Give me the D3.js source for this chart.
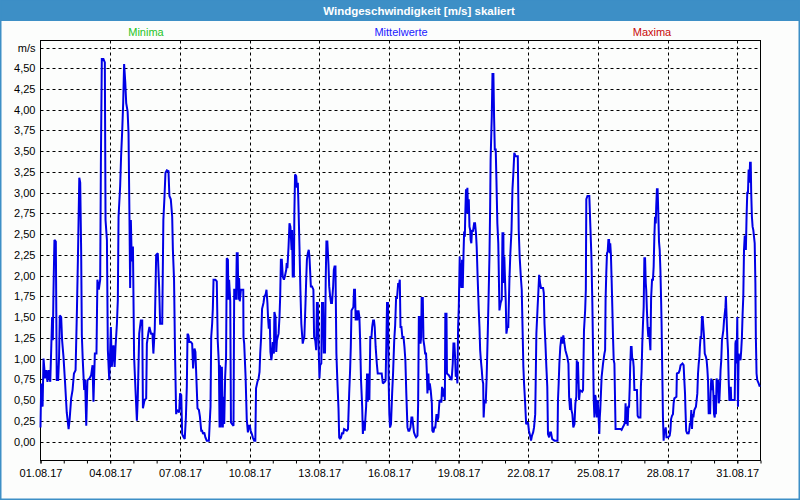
<!DOCTYPE html>
<html>
<head>
<meta charset="utf-8">
<script src="https://cdn.jsdelivr.net/npm/d3@7"></script>
<style>
  html, body { margin: 0; padding: 0; background: #fcfdfc; }
  svg { display: block; }
  text { font-family: "Liberation Sans", Arial, sans-serif; }
</style>
</head>
<body>
<svg id="chart" width="800" height="500"></svg>
<script>
// ---- data ----
const titleText = "Windgeschwindigkeit [m/s] skaliert";
const legendLabels = ["Minima", "Mittelwerte", "Maxima"];
const yUnitLabel = "m/s";
const yTickValues = [0, 0.25, 0.5, 0.75, 1, 1.25, 1.5, 1.75, 2, 2.25, 2.5, 2.75, 3, 3.25, 3.5, 3.75, 4, 4.25, 4.5];
const xTickLabels = ["01.08.17", "04.08.17", "07.08.17", "10.08.17", "13.08.17", "16.08.17", "19.08.17", "22.08.17", "25.08.17", "28.08.17", "31.08.17"];
// time in days since 01.08.2017 00:00
const days = [
0.00,0.03,0.09,0.13,0.20,0.25,0.30,0.35,0.42,0.46,0.50,0.53,0.56,0.60,0.66,0.70,0.76,0.80,0.83,0.89,0.93,0.99,
1.06,1.13,1.21,1.25,1.32,1.38,1.44,1.51,1.57,1.61,1.67,1.71,1.75,1.78,1.82,1.88,1.92,1.97,
2.02,2.11,2.18,2.24,2.28,2.34,2.41,2.45,2.51,2.57,2.60,2.64,2.71,2.77,2.80,2.86,2.90,2.96,
3.03,3.07,3.14,3.19,3.23,3.29,3.33,3.36,3.43,3.47,3.52,3.56,3.60,3.65,3.69,3.75,3.79,3.83,3.86,3.89,3.93,3.98,
4.03,4.09,4.15,4.19,4.25,4.32,4.38,4.41,4.48,4.55,4.58,4.65,4.69,4.76,4.82,4.86,4.92,4.98,
5.05,5.11,5.15,5.24,5.29,5.34,5.38,5.44,5.51,5.55,5.61,5.67,5.70,5.75,5.79,5.84,5.88,5.97,
6.01,6.06,6.10,6.16,6.21,6.26,6.30,6.33,6.37,6.41,6.47,6.53,6.57,6.63,6.67,6.72,6.76,6.82,6.86,6.92,6.96,
7.00,7.05,7.10,7.16,7.25,7.28,7.32,7.35,7.39,7.42,7.45,7.53,7.59,7.63,7.68,7.71,7.73,7.76,7.81,7.85,7.88,7.91,7.95,7.99,
8.02,8.07,8.09,8.12,8.17,8.20,8.25,8.31,8.34,8.39,8.42,8.45,8.49,8.52,8.55,8.58,8.63,8.73,8.74,8.77,8.83,8.88,8.93,8.97,
9.01,9.05,9.10,9.14,9.20,9.25,9.28,9.34,9.39,9.43,9.46,9.50,9.54,9.60,9.64,9.69,9.73,9.77,9.80,9.83,9.87,9.90,9.94,9.97,
10.00,10.05,10.07,10.12,10.15,10.18,10.25,10.29,10.32,10.35,10.39,10.43,10.48,10.52,10.58,10.60,10.63,10.68,10.72,10.76,10.81,10.83,10.86,10.91,10.93,10.96,
11.01,11.04,11.08,11.10,11.15,11.19,11.23,11.26,11.29,11.32,11.36,11.41,11.44,11.47,11.51,11.55,11.58,11.64,11.69,11.75,11.78,11.83,11.87,11.90,11.94,11.97,
12.01,12.04,12.09,12.12,12.17,12.20,12.22,12.25,12.28,12.31,12.35,12.40,12.43,12.47,12.51,12.55,12.60,12.63,12.66,12.70,12.74,12.78,12.83,12.86,12.90,12.94,12.99,
13.03,13.07,13.19,13.24,13.29,13.33,13.36,13.39,13.47,13.50,13.54,13.57,13.60,13.64,13.69,13.73,13.76,13.80,13.85,13.88,13.92,13.96,13.99,
14.02,14.06,14.09,14.13,14.16,14.20,14.25,14.28,14.32,14.36,14.39,14.43,14.48,14.52,14.61,14.69,14.74,14.82,14.86,14.89,14.92,14.96,14.99,
15.02,15.05,15.09,15.14,15.18,15.23,15.27,15.31,15.35,15.40,15.43,15.47,15.50,15.54,15.58,15.63,15.67,15.71,15.75,15.80,15.84,15.88,15.93,15.97,
16.01,16.04,16.08,16.13,16.17,16.23,16.26,16.29,16.33,16.36,16.39,16.41,16.46,16.49,16.53,16.56,16.60,16.63,16.66,16.70,16.73,16.76,16.80,16.85,16.87,16.92,16.96,
17.00,17.05,17.09,17.13,17.18,17.22,17.26,17.29,17.33,17.38,17.41,17.43,17.48,17.50,17.58,17.66,17.70,17.75,17.78,17.82,17.85,17.88,17.92,17.95,17.98,
18.01,18.05,18.07,18.10,18.12,18.15,18.18,18.21,18.24,18.27,18.29,18.32,18.35,18.38,18.41,18.44,18.47,18.50,18.52,18.55,18.58,18.62,18.67,18.71,18.75,18.78,18.82,18.87,18.90,18.93,18.96,
19.00,19.03,19.06,19.08,19.11,19.14,19.17,19.21,19.26,19.30,19.33,19.36,19.38,19.43,19.46,19.50,19.53,19.56,19.60,19.63,19.67,19.71,19.76,19.81,19.86,19.89,19.93,19.94,19.97,
20.00,20.03,20.06,20.10,20.14,20.19,20.23,20.28,20.32,20.36,20.40,20.45,20.55,20.59,20.63,20.68,20.72,20.76,20.79,20.82,20.86,20.91,20.99,
21.03,21.08,21.12,21.16,21.21,21.25,21.30,21.32,21.35,21.40,21.44,21.47,21.51,21.55,21.64,21.67,21.70,21.74,21.78,21.82,21.85,21.90,21.94,21.98,
22.03,22.13,22.26,22.28,22.31,22.34,22.38,22.43,22.47,22.51,22.56,22.60,22.68,22.73,22.76,22.80,22.83,22.86,22.90,22.94,22.99,
23.03,23.07,23.09,23.12,23.14,23.19,23.23,23.32,23.36,23.40,23.45,23.48,23.50,23.55,23.63,23.67,23.72,23.76,23.79,23.82,23.85,23.88,23.90,23.93,23.96,23.99,
24.03,24.06,24.08,24.10,24.13,24.16,24.22,24.28,24.31,24.33,24.36,24.39,24.42,24.45,24.48,24.51,24.53,24.56,24.59,24.62,24.65,24.68,24.71,24.73,24.76,24.98,
25.02,25.07,25.14,25.17,25.19,25.22,25.25,25.28,25.31,25.34,25.37,25.39,25.42,25.45,25.48,25.51,25.54,25.57,25.68,25.71,25.75,25.83,25.85,25.88,25.91,25.94,25.97,
26.00,26.03,26.06,26.08,26.11,26.14,26.17,26.20,26.23,26.26,26.29,26.33,26.37,26.40,26.43,26.46,26.49,26.51,26.54,26.57,26.60,26.63,26.66,26.69,26.72,26.74,26.77,26.80,26.83,26.86,26.89,26.92,26.95,
27.03,27.09,27.12,27.15,27.19,27.23,27.26,27.29,27.38,27.40,27.48,27.52,27.56,27.64,27.69,27.72,27.75,27.77,27.80,27.85,27.87,27.90,27.93,27.96,27.99,
28.02,28.05,28.08,28.11,28.15,28.22,28.25,28.28,28.31,28.34,28.37,28.39,28.42,28.45,28.48,28.51,28.54,28.57,28.60,28.65,28.68,28.71,28.74,28.77,28.80,28.83,28.85,28.88,28.91,28.94,28.97,
29.00,29.03,29.06,29.08,29.11,29.14,29.17,29.20,29.23,29.26,29.28,29.31,29.34,29.37,29.40,29.43,29.46,29.49,29.51,29.54,29.57,29.60,29.63,29.66,29.69,29.72,29.74,29.89,29.92,29.94,29.97,
30.00,30.03,30.06,30.09,30.11,30.14,30.17,30.20,30.23,30.26,30.29,30.32,30.34,30.37,30.40,30.43,30.46,30.49,30.52,30.55,30.58,30.60,30.63,30.66,30.69,30.72,30.75,30.78,30.80,30.83,30.86,30.92,30.97
];
// mean wind speed (m/s), one per entry of days
const speeds = [
0.17,0.70,0.42,1.00,0.76,0.86,0.72,0.86,0.72,1.10,1.50,1.22,1.83,2.43,2.41,0.74,0.74,1.02,1.52,1.50,1.22,1.02,
0.70,0.35,0.15,0.25,0.52,0.62,0.82,0.86,1.60,2.19,3.18,3.12,2.31,1.28,0.98,0.62,0.74,0.19,
0.74,0.76,0.80,0.92,0.48,1.06,1.06,1.95,1.83,1.95,3.36,4.61,4.61,4.57,2.67,2.43,1.10,0.74,
1.38,0.90,1.16,0.90,1.14,1.42,1.71,2.71,3.08,3.44,3.76,4.08,4.55,4.33,4.08,3.98,3.72,2.71,1.85,2.67,2.17,2.35,
1.02,0.62,0.25,0.54,1.30,1.46,1.46,0.40,0.50,0.52,1.18,1.32,1.38,1.30,1.30,1.06,1.36,2.25,
2.27,1.85,1.42,1.42,2.67,2.96,3.24,3.27,3.26,2.96,2.92,2.71,2.31,1.95,1.10,0.33,0.38,0.35,
0.58,0.56,0.09,0.05,0.03,0.29,0.66,1.30,1.28,1.20,1.20,1.18,0.88,1.12,1.08,0.70,0.40,0.38,0.31,0.13,0.13,
0.09,0.11,0.05,0.01,0.01,0.19,0.42,1.26,1.42,1.60,1.95,1.95,1.93,1.22,0.94,0.17,0.92,0.17,0.90,0.17,0.54,0.21,0.78,1.02,
2.21,2.19,1.71,1.95,1.69,0.23,0.21,0.19,1.83,1.83,1.71,2.27,2.27,1.71,1.97,1.69,1.83,1.83,1.26,1.18,0.78,0.27,0.11,0.19,
0.19,0.13,0.09,0.05,0.01,0.01,0.64,0.72,0.76,0.84,1.06,1.26,1.60,1.67,1.75,1.77,1.83,1.67,1.48,1.36,1.48,1.08,0.98,1.06,
1.20,1.06,1.56,1.50,1.08,1.22,1.30,1.50,1.75,2.19,2.19,1.99,1.95,1.99,2.07,2.15,2.09,2.35,2.63,2.59,2.31,2.55,1.99,1.99,2.75,3.22,
3.20,3.06,3.12,2.92,2.35,1.83,1.42,1.30,1.18,1.22,1.26,1.67,1.95,2.19,2.27,2.31,2.23,1.87,1.87,1.83,1.26,1.22,1.10,1.67,1.67,1.22,
0.76,0.92,0.94,1.67,1.67,1.06,1.50,1.06,1.95,2.41,2.41,2.13,1.87,1.75,1.67,1.67,1.87,2.07,2.11,2.11,1.06,0.74,0.40,0.05,0.03,0.05,0.11,
0.09,0.15,0.13,0.15,0.58,0.86,1.14,1.58,1.62,1.83,1.83,1.46,1.58,1.46,1.58,1.50,1.24,0.74,0.42,0.09,0.25,0.13,0.29,
0.42,0.82,0.48,0.82,0.50,1.26,1.26,1.38,1.46,1.46,1.38,1.14,0.94,0.82,0.82,0.82,0.70,0.72,0.74,1.18,1.67,1.67,0.74,
0.33,0.17,0.21,0.58,0.82,1.22,1.40,1.73,1.73,1.91,1.87,1.95,1.38,1.38,1.26,1.26,1.14,0.98,0.58,0.17,0.13,0.13,0.17,0.29,
0.29,0.21,0.11,0.07,0.05,0.07,0.46,1.50,1.50,1.18,1.26,1.73,1.73,1.22,1.14,1.06,1.06,0.86,0.58,0.82,0.62,0.70,0.62,0.46,0.13,0.11,0.17,
0.17,0.33,0.25,0.29,0.50,0.48,0.48,0.66,0.54,0.64,0.50,1.54,1.54,0.82,0.80,0.76,0.74,0.94,1.18,1.18,1.02,0.78,0.82,0.70,1.38,
1.62,2.23,1.87,2.15,1.85,2.19,1.85,2.23,2.53,2.47,2.75,3.04,2.75,3.06,2.75,2.92,2.59,2.55,2.43,2.39,2.55,2.53,2.63,2.63,2.51,2.35,1.99,1.58,1.38,1.10,0.98,
0.86,0.74,0.70,0.29,0.46,0.50,0.46,0.78,1.34,1.83,2.23,2.83,3.40,3.92,4.43,4.43,3.90,3.52,3.52,3.16,2.63,2.39,1.58,1.67,1.71,2.51,2.51,1.91,2.23,
1.95,1.71,1.30,1.38,1.38,1.95,2.27,2.55,3.04,3.24,3.48,3.44,3.44,2.55,2.23,1.99,1.83,1.30,0.90,0.70,0.50,0.21,0.23,
0.13,0.07,0.01,0.07,0.11,0.17,0.33,0.70,1.30,1.60,1.83,2.01,1.91,1.85,1.85,1.79,1.42,1.18,0.90,0.66,0.09,0.05,0.11,0.11,
0.03,0.01,0.01,0.50,0.70,0.94,1.14,1.26,1.18,1.28,1.18,1.10,1.02,0.94,0.54,0.38,0.52,0.38,0.33,0.17,0.21,
0.46,0.54,0.98,0.70,0.96,0.50,0.62,0.60,0.62,1.34,1.58,1.83,2.92,2.96,2.96,2.63,2.23,1.67,1.10,0.50,0.29,0.56,0.54,0.38,0.29,0.50,
0.29,0.09,0.29,0.38,0.58,0.78,0.94,1.06,1.10,1.71,2.03,2.27,2.29,2.43,2.43,2.27,2.39,2.25,1.95,1.62,1.26,0.98,0.94,0.62,0.15,0.15,
0.14,0.17,0.21,0.25,0.46,0.21,0.42,0.19,0.42,0.42,0.66,0.90,1.14,1.14,0.98,1.00,0.90,0.62,0.62,0.31,0.29,0.29,0.66,0.84,1.18,1.42,1.62,
2.21,2.21,1.91,1.83,1.58,1.38,1.26,1.38,1.22,1.10,1.73,1.95,1.95,2.11,2.47,2.71,2.63,2.83,3.04,3.04,2.75,2.41,2.31,2.07,1.71,1.44,0.86,0.29,0.01,0.15,0.13,0.17,0.05,
0.05,0.07,0.13,0.27,0.31,0.33,0.46,0.52,0.54,0.82,0.83,0.86,0.92,0.94,0.92,0.74,0.58,0.38,0.13,0.09,0.11,0.09,0.13,0.21,0.21,
0.38,0.15,0.33,0.29,0.38,0.42,0.50,0.58,0.82,0.94,1.02,1.14,1.26,1.26,1.50,1.50,1.38,1.26,1.06,1.02,0.98,0.88,0.74,0.33,0.50,0.33,0.58,0.76,0.62,0.74,0.58,
0.33,0.29,0.56,0.33,0.76,0.70,0.74,0.46,0.50,0.70,0.86,0.98,1.22,1.28,1.34,1.46,1.54,1.62,1.75,1.50,1.26,1.10,0.74,0.50,0.50,0.66,0.50,0.50,1.18,1.22,0.94,
1.50,0.42,1.06,0.98,1.02,0.98,1.10,1.26,1.54,1.75,2.31,2.47,2.47,2.31,2.71,3.00,3.00,3.28,3.12,3.36,3.36,3.00,2.71,2.59,2.55,2.47,2.39,1.91,1.26,0.82,0.74,0.70,0.66
];

// ---- layout ----
const W = 800, H = 500;
const plotLeft = 40.5, plotRight = 760.5, plotTop = 40.5, plotBottom = 460.5;

const svg = d3.select("#chart");

// background + window frame
svg.append("rect").attr("x", 0).attr("y", 0).attr("width", W).attr("height", H).attr("fill", "#fcfdfc");
svg.append("rect").attr("x", 0).attr("y", 0).attr("width", W).attr("height", 21).attr("fill", "#3d8fc6");
svg.append("rect").attr("x", 0.75).attr("y", 0).attr("width", W - 1.5).attr("height", H - 0.75)
  .attr("fill", "none").attr("stroke", "#3d8fc6").attr("stroke-width", 1.5);

svg.append("text").attr("x", 419).attr("y", 14.5).attr("text-anchor", "middle")
  .attr("fill", "#ffffff").attr("font-size", "11.5px").attr("font-weight", "bold").text(titleText);

// legend
const legendColors = ["#1fc41f", "#2020ff", "#c80a0a"];
const legendX = [146, 401, 652];
legendLabels.forEach((t, i) => {
  svg.append("text").attr("x", legendX[i]).attr("y", 36).attr("text-anchor", "middle")
    .attr("fill", legendColors[i]).attr("font-size", "11px").text(t);
});

// scales
const t0 = new Date(2017, 7, 1), t1 = new Date(2017, 8, 1);
const x = d3.scaleTime().domain([t0, t1]).range([plotLeft, plotRight]);
const y = d3.scaleLinear().domain([0, 4.75]).range([441.5, 47.5]);

const dayMs = 86400000;
const data = days.map((d, i) => ({ t: new Date(t0.getTime() + d * dayMs), v: speeds[i] }));

// gridlines
const grid = svg.append("g");
const yGridVals = yTickValues.concat([4.75]);
grid.selectAll("line.h").data(yGridVals).join("line")
  .attr("x1", plotLeft).attr("x2", plotRight)
  .attr("y1", d => Math.round(y(d)) + 0.5).attr("y2", d => Math.round(y(d)) + 0.5)
  .attr("stroke", "#000").attr("stroke-width", 1).attr("stroke-dasharray", "3,3");
const majorDays = d3.timeDay.every(3).range(t0, t1).filter(d => d.getMonth() === 7);
grid.selectAll("line.v").data(majorDays.slice(1)).join("line")
  .attr("x1", d => Math.round(x(d)) + 0.5).attr("x2", d => Math.round(x(d)) + 0.5)
  .attr("y1", plotTop).attr("y2", plotBottom)
  .attr("stroke", "#000").attr("stroke-width", 1).attr("stroke-dasharray", "3,3");

// plot frame
svg.append("rect").attr("x", plotLeft).attr("y", plotTop)
  .attr("width", plotRight - plotLeft).attr("height", plotBottom - plotTop)
  .attr("fill", "none").attr("stroke", "#000").attr("stroke-width", 1);

// x axis (minor day ticks + labels every 3 days)
const xAxisMinor = d3.axisBottom(x).ticks(d3.timeDay.every(1)).tickSize(3).tickFormat("");
const gxm = svg.append("g").attr("transform", `translate(0,${plotBottom})`).call(xAxisMinor);
gxm.select(".domain").remove();
gxm.selectAll("line").attr("stroke", "#000");

const fmt = d3.timeFormat("%d.%m.%y");
const xAxis = d3.axisBottom(x).tickValues(majorDays).tickSize(3).tickPadding(6)
  .tickFormat((d, i) => xTickLabels[i] !== undefined ? xTickLabels[i] : fmt(d));
const gx = svg.append("g").attr("transform", `translate(0,${plotBottom})`).call(xAxis);
gx.select(".domain").remove();
gx.selectAll("line").attr("stroke", "#000");
gx.selectAll("text").attr("font-family", "Liberation Sans, Arial, sans-serif")
  .attr("font-size", "11px").attr("fill", "#000").attr("dy", "0.71em");

// y axis labels
const de = d3.formatLocale({ decimal: ",", thousands: ".", grouping: [3], currency: ["", " €"] });
const yFmt = de.format(".2f");
const yAxis = d3.axisLeft(y).tickValues(yGridVals).tickSize(0).tickPadding(5)
  .tickFormat(d => d === 4.75 ? yUnitLabel : yFmt(d));
const gy = svg.append("g").attr("transform", `translate(${plotLeft},0)`).call(yAxis);
gy.select(".domain").remove();
gy.selectAll("text").attr("font-family", "Liberation Sans, Arial, sans-serif")
  .attr("font-size", "11px").attr("fill", "#000");

// series line
const line = d3.line().x(d => x(d.t)).y(d => y(d.v));
svg.append("path").datum(data).attr("d", line)
  .attr("fill", "none").attr("stroke", "#0000e6").attr("stroke-width", 2)
  .attr("stroke-linejoin", "miter").attr("stroke-miterlimit", 2);
</script>
</body>
</html>
